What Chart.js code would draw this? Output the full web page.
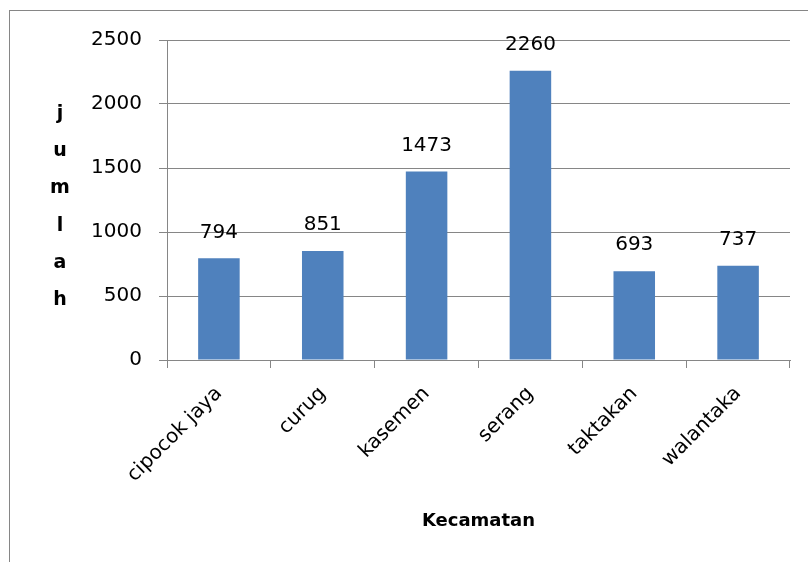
<!DOCTYPE html>
<html lang="en">
<head>
    <meta charset="UTF-8">
    <title>Jumlah per Kecamatan</title>
    <script src="https://cdn.jsdelivr.net/npm/chart.js"></script>
    <style>
        html, body { margin: 0; padding: 0; background: #fff; }
        .chart-box { width: 808px; height: 562px; }
    </style>
</head>
<body>
    <div class="chart-box">
        <canvas id="kecChart" width="808" height="562"></canvas>
    </div>

    <script>
        // data
        const kecamatan = ['cipocok jaya', 'curug', 'kasemen', 'serang', 'taktakan', 'walantaka'];
        const jumlah = [794, 851, 1473, 2260, 693, 737];
        const yTicks = [0, 500, 1000, 1500, 2000, 2500];
        const yTitleLetters = ['j', 'u', 'm', 'l', 'a', 'h'];
        const xTitle = 'Kecamatan';

        const FONT = 'DejaVu Sans';
        const GREY = '#868686';

        // outer frame + stacked y title + value labels
        const extras = {
            id: 'extras',
            beforeDraw(chart) {
                const c = chart.ctx;
                c.save();
                c.strokeStyle = GREY;
                c.lineWidth = 1;
                c.strokeRect(9.5, 10.5, 900, 700);
                c.restore();
            },
            afterDatasetsDraw(chart) {
                const c = chart.ctx;
                const meta = chart.getDatasetMeta(0);
                c.save();
                c.fillStyle = '#000';
                c.font = '20px ' + FONT;
                c.textAlign = 'center';
                c.textBaseline = 'middle';
                meta.data.forEach((bar, i) => {
                    c.fillText(String(jumlah[i]), bar.x, bar.y - 26);
                });

                c.font = 'bold 19px ' + FONT;
                const area = chart.chartArea;
                const mid = (area.top + area.bottom) / 2 + 7;
                const step = 37.2;
                const start = mid - step * (yTitleLetters.length - 1) / 2;
                yTitleLetters.forEach((ch, i) => {
                    c.fillText(ch, 60, start + i * step);
                });
                c.restore();
            }
        };

        const ctx = document.getElementById('kecChart').getContext('2d');
        new Chart(ctx, {
            type: 'bar',
            data: {
                labels: kecamatan,
                datasets: [{
                    data: jumlah,
                    backgroundColor: '#4F81BD',
                    barPercentage: 0.4,
                    categoryPercentage: 1.0
                }]
            },
            options: {
                responsive: false,
                animation: false,
                layout: { padding: { top: 40, right: 18, left: 0, bottom: 0 } },
                plugins: {
                    legend: { display: false },
                    tooltip: { enabled: false }
                },
                scales: {
                    x: {
                        grid: { offset: true, drawOnChartArea: false, color: GREY, tickLength: 8 },
                        border: { color: GREY },
                        ticks: {
                            color: '#000', font: { family: FONT, size: 20 },
                            maxRotation: 45, minRotation: 45, padding: 14
                        },
                        title: {
                            display: true, text: xTitle, color: '#000',
                            font: { family: FONT, size: 18, weight: 'bold' },
                            padding: { top: 0, bottom: 30 }
                        },
                        afterFit(scale) { scale.height = 202; }
                    },
                    y: {
                        min: 0, max: 2500,
                        afterBuildTicks(scale) { scale.ticks = yTicks.map(v => ({ value: v })); },
                        grid: { color: GREY, tickLength: 8 },
                        border: { color: GREY },
                        ticks: {
                            color: '#000', font: { family: FONT, size: 20 }, padding: 17,
                            callback: v => String(v)
                        },
                        afterFit(scale) { scale.width = 167; }
                    }
                }
            },
            plugins: [extras]
        });
    </script>
</body>
</html>
